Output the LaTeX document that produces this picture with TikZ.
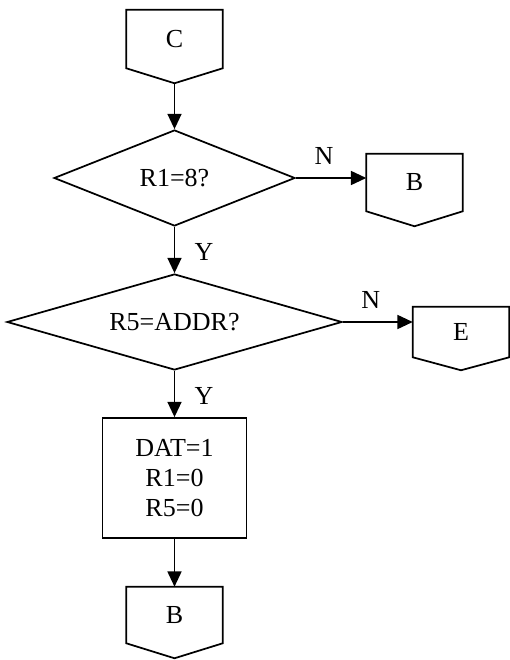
\documentclass[tikz,border=0pt]{standalone}
\usepackage{fontspec}
\setmainfont{Liberation Serif}
\usetikzlibrary{shapes.geometric,arrows.meta}
\definecolor{fgColor}{HTML}{000000}

\tikzset{flowline/.style={draw=fgColor, line width=1.3pt}}
% outline of an off-page connector round a node
\newcommand{\offpageoutline}[2][11.25pt]{\draw [flowline] (#2.south west) -- (#2.north west) -- (#2.north east) -- (#2.south east) -- ([yshift=#1]#2.south) -- cycle;}

\begin{document}
\begin{tikzpicture}[x=0.75pt,y=0.75pt,yscale=-1,
		every node/.style={font=\fontsize{19.5}{22.5}\selectfont, text=fgColor},
		arrowline/.style={flowline, -{Triangle[length=11.5pt,width=10.5pt]}},
		offpage/.style={rectangle, inner sep=0pt, minimum width=72pt, minimum height=#1},
		decision/.style 2 args={diamond, flowline, inner sep=0pt, minimum height=72pt, minimum width=#1, aspect=#2},
		process/.style={rectangle, flowline, align=center, minimum width=108pt, minimum height=90pt},
		lbl/.style={inner sep=0pt}]
		\useasboundingbox (0,0) rectangle (510,660);

		% Off page connectors
		\node [offpage=43.5pt]  (cTop)    at (174.5,39)  {C};
		\node [offpage=42.75pt] (bRight)  at (414.5,182.5) {B};
		\node [offpage=37.5pt]  (eRight)  at (461,332) {E};
		\node [offpage=42pt]    (bBottom) at (174.5,615) {B};
		\offpageoutline{cTop}
		\offpageoutline{bRight}
		\offpageoutline[9.75pt]{eRight}
		\offpageoutline{bBottom}

		% Decisions
		\node [decision={180.75pt}{2.51}] (qR1) at (174.5,178) {R1=8?};
		\node [decision={251.25pt}{3.49}] (qR5) at (174.5,322) {R5=ADDR?};

		% Process
		\node [process] (setDat) at (174.5,478) {DAT=1\\R1=0\\R5=0};

		% Arrows
		\draw [arrowline] ([yshift=11.25pt]cTop.south) -- (qR1.north);
		\draw [arrowline] (qR1.east) -- (qR1.east -| bRight.west) node [lbl, pos=0.4, above=9.5pt] {N};
		\draw [arrowline] (qR1.south) -- (qR5.north) node [lbl, pos=0.55, right=14.5pt] {Y};
		\draw [arrowline] (qR5.east) -- (qR5.east -| eRight.west) node [lbl, pos=0.4, above=9.5pt] {N};
		\draw [arrowline] (qR5.south) -- (setDat.north) node [lbl, pos=0.55, right=14.5pt] {Y};
		\draw [arrowline] (setDat.south) -- (bBottom.north);
	\end{tikzpicture}
\end{document}
